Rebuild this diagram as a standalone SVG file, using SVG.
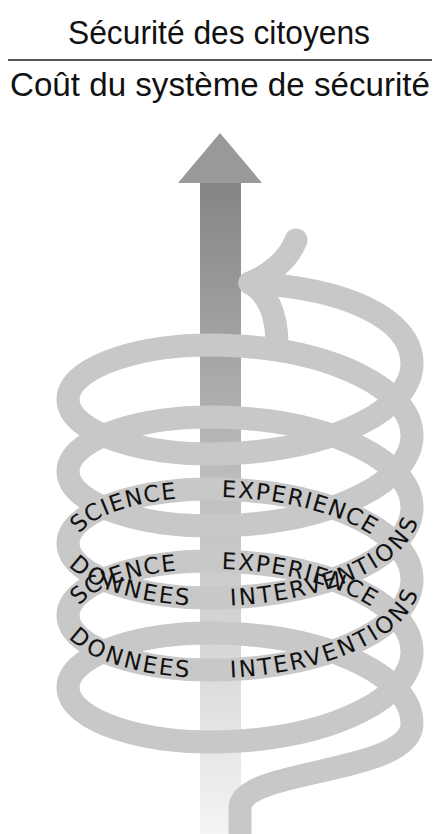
<svg xmlns="http://www.w3.org/2000/svg" width="438" height="834" viewBox="0 0 438 834">
<style>
.ttl{font-family:"Liberation Sans",Arial,sans-serif;font-size:33px;fill:#111}
.band{fill:none;stroke:#c8c8c8;stroke-width:23;stroke-linecap:round;stroke-linejoin:round}
.lbl{font-family:"DejaVu Sans",Verdana,sans-serif;font-size:23px;letter-spacing:1.8px;fill:#111;dominant-baseline:central}
</style>
<defs>
<linearGradient id="shaft" x1="0" y1="0" x2="0" y2="1">
<stop offset="0" stop-color="#858585"/>
<stop offset="0.5" stop-color="#c2c2c2"/>
<stop offset="1" stop-color="#f4f4f4"/>
</linearGradient>
<path id="tb1" d="M68,543.5 C68,510.34 145,483.67 240,490 C335,496.33 412,533.68 412,579.5"/>
<path id="tf1" d="M68,543.5 C68,576.66 145,603.33 240,597 C335,590.67 412,553.32 412,507.5"/>
<path id="tb2" d="M68,615.5 C68,582.34 145,555.67 240,562 C335,568.33 412,605.68 412,651.5"/>
<path id="tf2" d="M68,615.5 C68,648.66 145,675.33 240,669 C335,662.67 412,625.32 412,579.5"/>
</defs>
<rect width="438" height="834" fill="#ffffff"/>
<g id="title">
<text class="ttl" x="68" y="44" textLength="302" lengthAdjust="spacingAndGlyphs">Sécurité des citoyens</text>
<line x1="8" y1="60" x2="432" y2="60" stroke="#222" stroke-width="1.6"/>
<text class="ttl" x="10" y="96" textLength="420" lengthAdjust="spacingAndGlyphs">Coût du système de sécurité</text>
</g>
<g id="arrow">
<rect x="200" y="183" width="41" height="651" fill="url(#shaft)"/>
<polygon points="178,183 262,183 220,133" fill="#999999"/>
</g>
<g id="spiral">
<path class="band" d="M240,834 L240,808 C240,768 412,775 412,723.5
C412,677.68 335,640.33 240,634
C145,627.67 68,654.34 68,687.5
C68,720.66 145,747.33 240,741
C335,734.67 412,697.32 412,651.5
C412,605.68 335,568.33 240,562
C145,555.67 68,582.34 68,615.5
C68,648.66 145,675.33 240,669
C335,662.67 412,625.32 412,579.5
C412,533.68 335,496.33 240,490
C145,483.67 68,510.34 68,543.5
C68,576.66 145,603.33 240,597
C335,590.67 412,553.32 412,507.5
C412,461.68 335,424.33 240,418
C145,411.67 68,438.34 68,471.5
C68,504.66 145,531.33 240,525
C335,518.67 412,481.32 412,435.5
C412,389.68 335,352.33 240,346
C145,339.67 68,366.34 68,399.5
C68,432.66 145,459.33 240,453
C335,446.67 412,409.32 412,363.5
C412,318 345,288 250,283"/>
<path class="band" d="M250,283 C265,277 288,262 296,240"/>
<path class="band" d="M250,283 C266,292 277,312 277,345"/>
</g>
<g id="labels">
<text class="lbl"><textPath href="#tb1" startOffset="17">SCIENCE</textPath></text>
<text class="lbl"><textPath href="#tb1" startOffset="174">EXPERIENCE</textPath></text>
<text class="lbl"><textPath href="#tf1" startOffset="17">DONNEES</textPath></text>
<text class="lbl"><textPath href="#tf1" startOffset="182">INTERVENTIONS</textPath></text>
<text class="lbl"><textPath href="#tb2" startOffset="17">SCIENCE</textPath></text>
<text class="lbl"><textPath href="#tb2" startOffset="174">EXPERIENCE</textPath></text>
<text class="lbl"><textPath href="#tf2" startOffset="17">DONNEES</textPath></text>
<text class="lbl"><textPath href="#tf2" startOffset="182">INTERVENTIONS</textPath></text>
</g>
</svg>
